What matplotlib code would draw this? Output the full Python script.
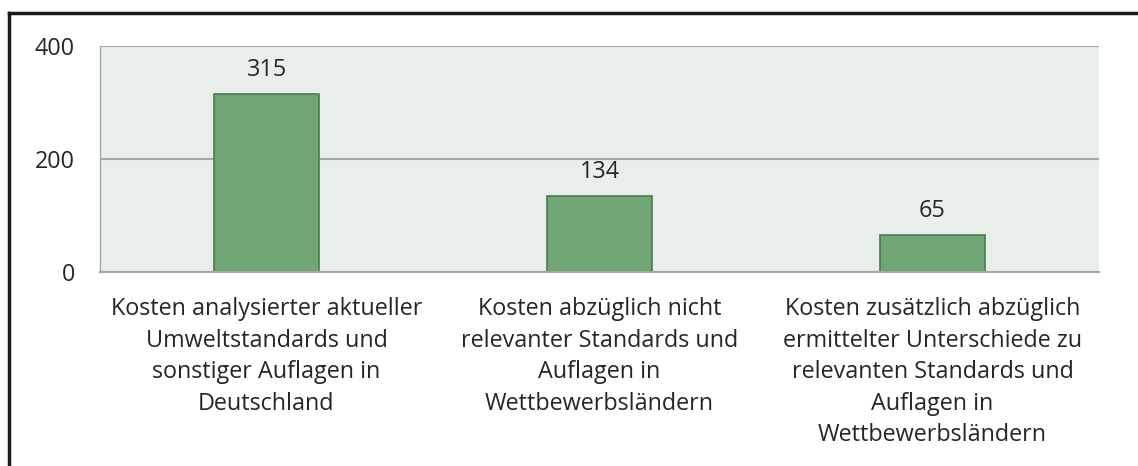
import matplotlib.pyplot as plt
from matplotlib.lines import Line2D

categories = [
    "Kosten analysierter aktueller\nUmweltstandards und\nsonstiger Auflagen in\nDeutschland",
    "Kosten abzüglich nicht\nrelevanter Standards und\nAuflagen in\nWettbewerbsländern",
    "Kosten zusätzlich abzüglich\nermittelter Unterschiede zu\nrelevanten Standards und\nAuflagen in\nWettbewerbsländern",
]
values = [315, 134, 65]
y_ticks = [0, 200, 400]

plt.rcParams['font.family'] = ['Open Sans', 'DejaVu Sans']
FS = 16.8

fig = plt.figure(figsize=(11.38, 4.66), dpi=100)
ax = fig.add_axes([100 / 1138, 1 - 272 / 466, 999 / 1138, 226 / 466])
ax.set_facecolor('#E8EEEA')

x = range(len(values))
ax.bar(x, values, width=0.315, color='#70A673', edgecolor='#4D7A52', linewidth=1.2, zorder=3)
for xi, v in zip(x, values):
    ax.annotate(str(v), (xi, v), xytext=(0, 9), textcoords='offset points',
                ha='center', va='bottom', fontsize=FS, color='#262626')

ax.set_xlim(-0.5, 2.5)
ax.set_ylim(0, 400)
ax.set_yticks(y_ticks)
ax.yaxis.grid(True, color='#A6A6A6', linewidth=1.5, zorder=1)
ax.set_xticks(list(x))
ax.set_xticklabels(categories, fontsize=FS, color='#262626', linespacing=1.42)
ax.tick_params(axis='x', length=0, pad=18)
ax.tick_params(axis='y', length=0, pad=18, labelsize=FS, labelcolor='#262626')
for s in ['top', 'right']:
    ax.spines[s].set_visible(False)
ax.spines['left'].set_color('#A6A6A6')
ax.spines['bottom'].set_color('#A6A6A6')
ax.spines['bottom'].set_linewidth(1.5)
ax.spines['left'].set_linewidth(1.0)
ax.spines['bottom'].set_zorder(4)

# outer frame (left and top edges only)
fig.add_artist(Line2D([8.5 / 1138, 8.5 / 1138], [0, 1 - 13 / 466], color='#1A1A1A', linewidth=2.5,
                      transform=fig.transFigure))
fig.add_artist(Line2D([8.5 / 1138, 1], [1 - 13 / 466, 1 - 13 / 466], color='#1A1A1A', linewidth=2.5,
                      transform=fig.transFigure))

fig.savefig('out.png', dpi=100)
